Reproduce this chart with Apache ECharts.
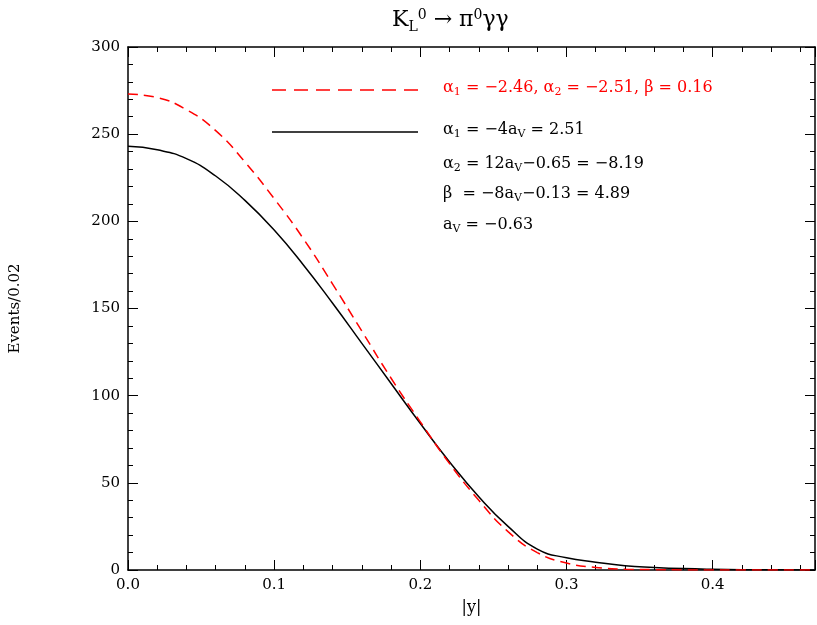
<!DOCTYPE html>
<html><head><meta charset="utf-8">
<script src="https://cdn.jsdelivr.net/npm/echarts@6/dist/echarts.min.js"></script>
<style>body{margin:0}#c{width:817px;height:625px}</style></head>
<body><div id="c"></div>
<script>
var xs = [0, 0.02, 0.04, 0.06, 0.08, 0.1, 0.12, 0.14, 0.16, 0.18, 0.2, 0.22, 0.24, 0.26, 0.28, 0.3, 0.32, 0.34, 0.36, 0.38, 0.4, 0.42, 0.44, 0.47];
var blackY = [243, 241, 236, 226, 212, 195, 175, 153, 130, 107, 84, 62, 42, 25, 12, 7, 4.5, 2.5, 1.5, 0.8, 0.4, 0.2, 0.1, 0];
var redY = [273, 271, 264, 252, 234, 213, 190, 164, 137, 110, 85, 61, 40, 22, 10, 4, 1.5, 0.5, 0.2, 0.05, 0, 0, 0, 0];

function pairs(ys) { return xs.map(function (x, i) { return [x, ys[i]]; }); }

var chart = echarts.init(document.getElementById('c'));
var font = 'DejaVu Serif';
var rich = {
    s: {fontSize: 11, verticalAlign: 'bottom', padding: [8, 0, 0, 0], fontFamily: font},
    n: {fontSize: 16, fontFamily: font}
};
function txt(x, y, str, color) {
    return {type: 'text', left: x, top: y, style: {text: str, rich: rich, fill: color, font: '16px ' + font}};
}
var ax = {
    min: 0,
    axisLine: {show: true, onZero: false, lineStyle: {color: '#000', width: 1.5}},
    axisTick: {inside: true, length: 10, lineStyle: {color: '#000'}},
    minorTick: {show: true, splitNumber: 5, length: 5, lineStyle: {color: '#000'}},
    splitLine: {show: false}
};
chart.setOption({
    animation: false,
    grid: {left: 126, right: 2, top: 47, bottom: 55},
    xAxis: [
        Object.assign({type: 'value', max: 0.47, interval: 0.1, name: '|y|', nameLocation: 'middle', nameGap: 30,
            nameTextStyle: {fontSize: 16, fontFamily: font, color: '#000'},
            axisLabel: {fontSize: 15, fontFamily: font, color: '#000', formatter: function (v) { return v.toFixed(1); }, showMaxLabel: false}}, ax),
        Object.assign({type: 'value', max: 0.47, interval: 0.1, position: 'top', axisLabel: {show: false}}, ax)
    ],
    yAxis: [
        Object.assign({type: 'value', max: 300, interval: 50, name: 'Events/0.02', nameLocation: 'middle', nameGap: 105,
            nameTextStyle: {fontSize: 15, fontFamily: font, color: '#000'},
            axisLabel: {fontSize: 15, fontFamily: font, color: '#000'}}, ax),
        Object.assign({type: 'value', max: 300, interval: 50, position: 'right', axisLabel: {show: false}}, ax)
    ],
    series: [
        {type: 'line', data: pairs(blackY), smooth: true, symbol: 'none', lineStyle: {color: '#000', width: 1.5}},
        {type: 'line', data: pairs(redY), smooth: true, symbol: 'none', lineStyle: {color: '#f00', width: 1.5, type: [10, 6]}}
    ],
    graphic: [
        {type: 'text', left: 392, top: 8, style: {text: '{n|K}{s|L}{t|0}{n| → π}{t|0}{n|γγ}', fill: '#000',
            rich: {n: {fontSize: 22, fontFamily: font}, s: {fontSize: 14, fontFamily: font, padding: [14, 0, 0, 0]},
                   t: {fontSize: 14, fontFamily: font, padding: [0, 0, 10, 0]}}}},
        {type: 'line', shape: {x1: 272, y1: 90, x2: 425, y2: 90}, style: {stroke: '#f00', lineWidth: 1.5, lineDash: [14, 8]}},
        {type: 'line', shape: {x1: 272, y1: 132, x2: 418, y2: 132}, style: {stroke: '#000', lineWidth: 1.5}},
        txt(443, 80, '{n|α}{s|1}{n| = −2.46, α}{s|2}{n| = −2.51, β = 0.16}', '#f00'),
        txt(443, 122, '{n|α}{s|1}{n| = −4a}{s|V}{n| = 2.51}', '#000'),
        txt(443, 156, '{n|α}{s|2}{n| = 12a}{s|V}{n|−0.65 = −8.19}', '#000'),
        txt(443, 186, '{n|β  = −8a}{s|V}{n|−0.13 = 4.89}', '#000'),
        txt(443, 217, '{n|a}{s|V}{n| = −0.63}', '#000')
    ]
});
</script></body></html>
